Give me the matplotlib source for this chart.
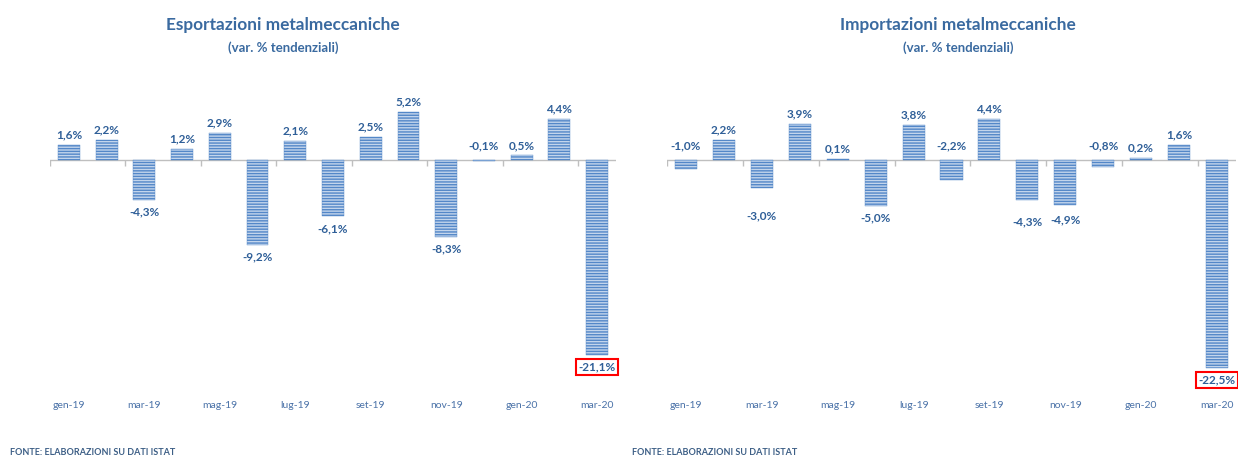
import matplotlib
matplotlib.use("Agg")
import matplotlib.pyplot as plt
import numpy as np

plt.rcParams['font.family'] = ['Lato', 'DejaVu Sans']
plt.rcParams['hatch.linewidth'] = 1.0

months = ["gen-19", "feb-19", "mar-19", "apr-19", "mag-19", "giu-19", "lug-19", "ago-19",
          "set-19", "ott-19", "nov-19", "dic-19", "gen-20", "feb-20", "mar-20"]
export_vals = [1.6, 2.2, -4.3, 1.2, 2.9, -9.2, 2.1, -6.1, 2.5, 5.2, -8.3, -0.1, 0.5, 4.4, -21.1]
import_vals = [-1.0, 2.2, -3.0, 3.9, 0.1, -5.0, 3.8, -2.2, 4.4, -4.3, -4.9, -0.8, 0.2, 1.6, -22.5]
titles = ["Esportazioni metalmeccaniche", "Importazioni metalmeccaniche"]
subtitle = "(var. % tendenziali)"
source = "FONTE: ELABORAZIONI SU DATI ISTAT"

W, H = 1238, 458
fig = plt.figure(figsize=(W / 100, H / 100), dpi=100)

TXT = '#2f5f98'
TICK = '#4a72a8'
FACE = '#c3d5ec'
LINE = '#5387c8'

def px_axes(x0, x1, ytop, ybot):
    return [x0 / W, 1 - ybot / H, (x1 - x0) / W, (ybot - ytop) / H]

layouts = [(50, 616), (667, 1236)]
title_cx = [283, 958]
ylim = (-25.43, 6.49)
# label placement tweaks (pixels): 'zero' = label above the zero line; number = distance below bar end
label_style = [
    {11: 'zero'},
    {0: 'zero', 7: 'zero', 11: 'zero', 2: 28, 9: 22, 10: 15},
]
PT = 0.72  # points per pixel at 100 dpi

for i, vals in enumerate([export_vals, import_vals]):
    ax = fig.add_axes(px_axes(layouts[i][0], layouts[i][1], 100, 395))
    x = np.arange(len(vals))
    ax.bar(x, vals, width=0.58, color=FACE, edgecolor=LINE, hatch='------', linewidth=0.3, zorder=2)
    ax.set_xlim(-0.5, len(vals) - 0.5)
    ax.set_ylim(*ylim)
    ax.axhline(0, color='#bfbfbf', lw=1.0, zorder=1)
    bounds = np.arange(-0.5, len(vals), 2)
    ax.plot(bounds, np.zeros_like(bounds), ls='none', marker=3, ms=4, color='#bfbfbf', mew=1.0, zorder=1)
    for s in ax.spines.values():
        s.set_visible(False)
    ax.set_yticks([])
    ax.set_xticks(x[::2])
    ax.set_xticklabels(months[::2], fontsize=7.5, color=TICK)
    ax.tick_params(axis='x', length=0, pad=4)
    for j, v in enumerate(vals):
        lab = f"{v:.1f}%".replace('.', ',')
        last = j == len(vals) - 1
        kw = {}
        if last:
            kw['bbox'] = dict(boxstyle='square,pad=0.2', fc='white', ec='red', lw=1.5)
        st = label_style[i].get(j)
        if st == 'zero':
            anchor, dy = (j, 0), 14
        elif v >= 0:
            anchor, dy = (j, v), 10
        else:
            anchor, dy = (j, v), -(st if st else 12)
        ax.annotate(lab, anchor, xytext=(0, dy * PT), textcoords='offset points',
                    ha='center', va='center', fontsize=8.5,
                    fontweight='bold', color=TXT, annotation_clip=False, **kw)
    fig.text(title_cx[i] / W, 1 - 25 / H, titles[i], ha='center', va='center',
             fontsize=12.4, fontweight='bold', color='#3a6aa0')
    fig.text(title_cx[i] / W, 1 - 48 / H, subtitle, ha='center', va='center',
             fontsize=9.5, fontweight='bold', color='#3a6aa0')
    fig.text([10, 632][i] / W, 1 - 457 / H, source, ha='left', va='bottom',
             fontsize=6.5, fontweight='bold', color='#3d5f86')

fig.savefig("out.png", dpi=100)
